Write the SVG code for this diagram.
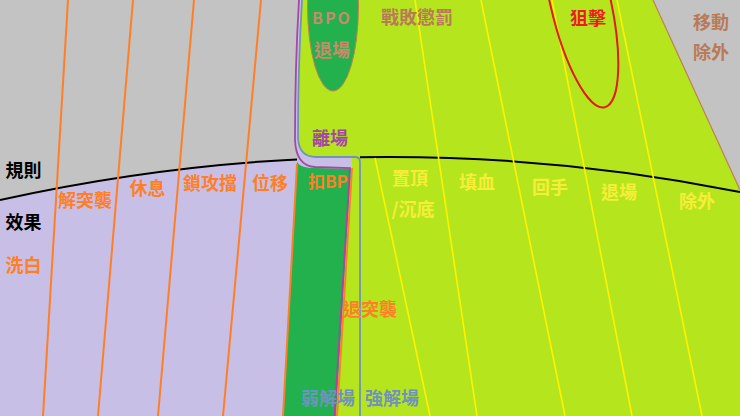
<svg xmlns="http://www.w3.org/2000/svg" width="740" height="416" viewBox="0 0 740 416">
<style>
text{font-family:"Noto Sans CJK TC","Noto Sans CJK SC","Liberation Sans",sans-serif;font-size:18px;font-weight:bold;text-anchor:middle}
.or{fill:#ff7f27}
.br{fill:#b97a57}
.ye{fill:#f7ee3a}
.bk{fill:#000}
.bg{fill:#7092be}
.ol{stroke:#ff7f27;stroke-width:2;fill:none}
.yl{stroke:#fff200;stroke-width:1.6;fill:none}
</style>
<defs>
<clipPath id="cc"><path d="M0,0H297V416H0Z M360,0H740V416H360Z"/></clipPath>
</defs>
<g id="regions">
<rect width="740" height="416" fill="#c3c3c3"/>
<path d="M0,200 Q370,118 740,192 L740,416 L0,416 Z" fill="#c8bfe7"/>
<path d="M301,0 L653,0 L740,190 L740,416 L336,416 L352,168 L352,157 L316,157 Q299,157 298,138 C298,100 299,50 302,0 Z" fill="#b5e61d"/>
<path d="M299,0 L302,0 C299,50 298,100 298,138 Q299,157 316,157 L352,157 L352,168 L315,167 Q296,166 295,140 C295,100 296,50 299,0 Z" fill="#c8bfe7"/>
<path d="M297,162 Q300,168 315,168 L351,169 L336,416 L283,416 Z" fill="#22b14c"/>
</g>
<g id="connectors">
<path d="M0,200 Q370,118 740,192" stroke="#000" stroke-width="2" fill="none" clip-path="url(#cc)"/>
<line class="ol" x1="68" y1="0" x2="43" y2="416"/>
<line class="ol" x1="133" y1="0" x2="98" y2="416"/>
<line class="ol" x1="194" y1="0" x2="158" y2="416"/>
<line class="ol" x1="261" y1="0" x2="223" y2="416"/>
<line class="ol" x1="297" y1="164" x2="283" y2="416"/>
<line class="ol" x1="352" y1="168" x2="337" y2="416"/>
<line class="yl" x1="415" y1="0" x2="477" y2="416"/>
<line class="yl" x1="481" y1="0" x2="565" y2="416"/>
<line class="yl" x1="552" y1="0" x2="632" y2="416"/>
<line class="yl" x1="617" y1="0" x2="702" y2="416"/>
<line class="yl" x1="375" y1="158" x2="430" y2="416"/>
<line x1="653" y1="0" x2="740" y2="190" stroke="#c08050" stroke-width="1.2"/>
<path d="M299,0 C296,50 295,100 295,140 Q296,166 315,167 L350,168 L334.5,416" stroke="#a349a4" stroke-width="1.8" fill="none"/>
<path d="M302,0 C299,50 298,100 298,138 Q299,157 316,157 L355,157 Q360,157 360,162 L360,416" stroke="#7092be" stroke-width="1.8" fill="none"/>
</g>
<g id="bpo">
<ellipse cx="333" cy="6" rx="25.5" ry="85" fill="#22b14c" stroke="#c08050" stroke-width="1"/>
<text x="332" y="24" style="font-size:16px;letter-spacing:2px;fill:#c98a6a">BPO</text>
<text x="332" y="57" style="fill:#c98a6a">退場</text>
</g>
<g id="snipe">
<ellipse cx="580" cy="0" rx="30" ry="110" transform="rotate(-13 580 0)" fill="none" stroke="#e31a1c" stroke-width="2"/>
<text x="588" y="25" style="fill:#ed1c24">狙擊</text>
</g>
<g id="labels-left">
<text class="bk" x="23.5" y="177">規則</text>
<text class="bk" x="23.5" y="229">效果</text>
<text class="or" x="23.5" y="272">洗白</text>
<text class="or" x="85" y="207">解突襲</text>
<text class="or" x="147.5" y="195">休息</text>
<text class="or" x="210" y="190">鎖攻擋</text>
<text class="or" x="270" y="190">位移</text>
</g>
<g id="labels-mid">
<text x="330" y="145" style="fill:#a349a4">離場</text>
<text x="328" y="188" style="font-size:17px;fill:#ff7f27">扣BP</text>
<text class="or" x="370" y="316">退突襲</text>
<text class="bg" x="328" y="405">弱解場</text>
<text class="bg" x="392" y="405">強解場</text>
</g>
<g id="labels-right">
<text class="br" x="417" y="24">戰敗懲罰</text>
<text class="br" x="711" y="29">移動</text>
<text class="br" x="711" y="59">除外</text>
<text class="ye" x="410" y="185">置頂</text>
<text class="ye" x="413" y="216">/沉底</text>
<text class="ye" x="477" y="189">填血</text>
<text class="ye" x="550" y="194">回手</text>
<text class="ye" x="619" y="199">退場</text>
<text class="ye" x="697" y="208">除外</text>
</g>
</svg>
